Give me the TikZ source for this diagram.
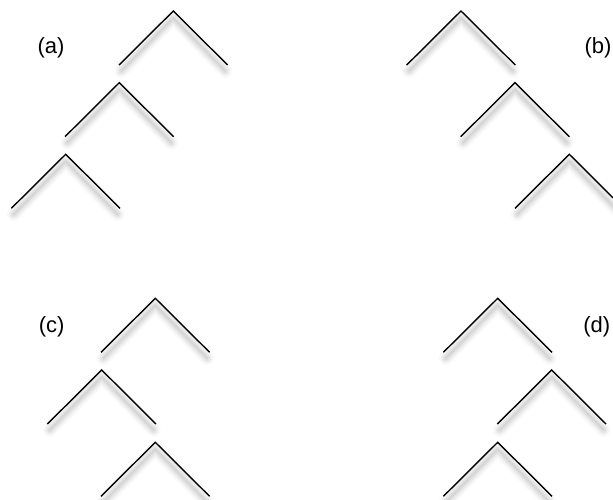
\documentclass[tikz,border=0pt]{standalone}
\usepackage{fontspec}
\setmainfont{Liberation Sans}
\tikzset{
 chev/.pic={
  \foreach \w/\o in {14/0.02,11/0.025,8/0.035,5/0.045,2/0.05}{
   \draw[line width=\w pt, opacity=\o, line cap=round, line join=round, black] (-52,60) -- (0,7) -- (52,60);
  }
  \draw[line width=1.4pt, line join=miter] (-54.3,54) -- (0,0) -- (54.3,54);
 },
 lbl/.style={font=\fontsize{22}{25}\selectfont, inner sep=0pt}
}
\begin{document}
\begin{tikzpicture}[x=1pt,y=-1pt]
\useasboundingbox (0,0) rectangle (613,499);
\clip (0,0) rectangle (613,499);
% (a)
\pic at (173.3,11) {chev};
\pic at (119.3,82.7) {chev};
\pic at (65.7,154.3) {chev};
\node[lbl] (la) at (51,48) {(a)};
% (b)
\pic at (461,11) {chev};
\pic at (515,82.7) {chev};
\pic at (569.3,154.3) {chev};
\node[lbl] (lb) at (598,48) {(b)};
% (c)
\pic at (155.3,298.3) {chev};
\pic at (101.7,370) {chev};
\pic at (155.3,442.3) {chev};
\node[lbl] (lc) at (51.7,327) {(c)};
% (d)
\pic at (497.7,298.3) {chev};
\pic at (551.7,370) {chev};
\pic at (497.7,442.3) {chev};
\node[lbl] (ld) at (596.7,327) {(d)};
\end{tikzpicture}
\end{document}
